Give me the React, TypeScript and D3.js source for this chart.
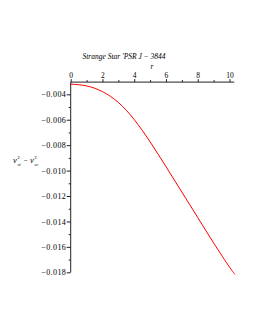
import React, { useEffect, useRef } from 'react';
import * as d3 from 'd3';

const rValues = [0, 1, 2, 3, 4, 5, 6, 7, 8, 9, 10, 10.35];
const diffValues = [-0.0032, -0.00334, -0.00379, -0.00464, -0.00599, -0.00774, -0.00969, -0.01169, -0.01369, -0.01569, -0.01759, -0.01816];

const xMajor = [0, 2, 4, 6, 8, 10];
const xMinor = [1, 3, 5, 7, 9];
const yMajor = [-0.004, -0.006, -0.008, -0.01, -0.012, -0.014, -0.016, -0.018];
const yMinor = [-0.005, -0.007, -0.009, -0.011, -0.013, -0.015, -0.017];

const FONT = '"Liberation Serif", "Times New Roman", serif';

const App: React.FC = () => {
  const svgRef = useRef<SVGSVGElement>(null);

  useEffect(() => {
    const svg = d3.select(svgRef.current);
    svg.selectAll('*').remove();

    const x = d3.scaleLinear().domain([0, 10]).range([70.7, 229.5]);
    const y = d3.scaleLinear().domain([-0.004, -0.018]).range([94.3, 272.3]);
    const axisTopY = y(-0.00304);
    const fmt = d3.format('.3f');

    // x axis along the top
    const gx = svg.append('g').attr('transform', `translate(0,${axisTopY})`);
    gx.append('line')
      .attr('x1', x(0)).attr('x2', x(10.3))
      .attr('stroke', '#222').attr('stroke-width', 1);
    gx.append('g').call(
      d3.axisTop(x).tickValues(xMajor).tickSize(3).tickPadding(1).tickFormat(d => String(d))
    );
    gx.append('g').call(d3.axisTop(x).tickValues(xMinor).tickSize(2).tickFormat(() => ''));
    gx.selectAll('.domain').remove();
    gx.selectAll('text').attr('font-family', FONT).attr('font-size', 7.5).attr('fill', '#000');
    gx.selectAll('.tick line').attr('stroke', '#222');

    // y axis at r = 0
    const gy = svg.append('g').attr('transform', `translate(${x(0)},0)`);
    gy.append('line')
      .attr('y1', axisTopY).attr('y2', y(-0.018))
      .attr('stroke', '#222').attr('stroke-width', 1);
    gy.append('g').call(
      d3.axisLeft(y).tickValues(yMajor).tickSize(4).tickPadding(0.5).tickFormat(d => fmt(d as number))
    );
    gy.append('g').call(d3.axisLeft(y).tickValues(yMinor).tickSize(2).tickFormat(() => ''));
    gy.selectAll('.domain').remove();
    gy.selectAll('text')
      .attr('font-family', FONT).attr('font-size', 8).attr('letter-spacing', 0.4).attr('fill', '#000');
    gy.selectAll('.tick line').attr('stroke', '#222');

    // curve
    const pts = rValues.map((r, i) => [r, diffValues[i]] as [number, number]);
    const line = d3.line<[number, number]>()
      .x(d => x(d[0]))
      .y(d => y(d[1]))
      .curve(d3.curveNatural);
    svg.append('path')
      .datum(pts)
      .attr('fill', 'none')
      .attr('stroke', '#ff0000')
      .attr('stroke-width', 1)
      .attr('d', line);

    // title and axis labels
    svg.append('text')
      .attr('x', 124).attr('y', 59)
      .attr('text-anchor', 'middle')
      .attr('font-family', FONT).attr('font-style', 'italic').attr('font-size', 7.5)
      .text("Strange Star 'PSR J \u2212 3844");

    svg.append('text')
      .attr('x', 152).attr('y', 68.5)
      .attr('text-anchor', 'middle')
      .attr('font-family', FONT).attr('font-style', 'italic').attr('font-size', 7.5)
      .text('r');

    // y label: v_st^2 - v_sr^2
    const yl = svg.append('g').attr('font-family', FONT).attr('fill', '#000');
    const part = (t: string, px: number, py: number, size: number, italic: boolean) =>
      yl.append('text').attr('x', px).attr('y', py).attr('font-size', size)
        .attr('font-style', italic ? 'italic' : 'normal').text(t);
    part('v', 13, 163, 8.5, true);
    part('2', 17.2, 159, 5, false);
    part('st', 17.2, 165.5, 5, true);
    part('\u2212', 23.5, 162.5, 7.5, false);
    part('v', 30, 163, 8.5, true);
    part('2', 34.2, 159, 5, false);
    part('sr', 34.2, 165.5, 5, true);
  }, []);

  return (
    <svg
      ref={svgRef}
      width={255}
      height={330}
      style={{ position: 'absolute', left: 0, top: 0, background: '#fff' }}
    />
  );
};

export default App;
